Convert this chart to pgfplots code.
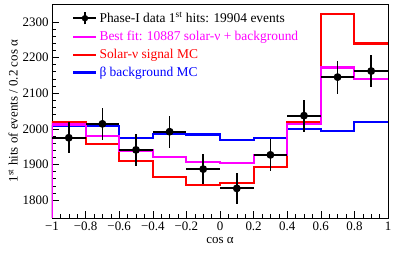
\documentclass[border=0pt]{standalone}
\usepackage{fontspec}
\setmainfont{Liberation Serif}
\usepackage{pgfplots}
\pgfplotsset{compat=1.18}
\usepackage{pgfplotstable}
\usetikzlibrary{calc}
\definecolor{mag}{RGB}{255,0,255}
\definecolor{rd}{RGB}{255,0,0}
\definecolor{bl}{RGB}{0,0,255}

\pgfplotstableread{
x y ex ey
-0.9 1975 0.1 44
-0.7 2014 0.1 45
-0.5 1941 0.1 44
-0.3 1992 0.1 45
-0.1 1887 0.1 43
0.1 1833 0.1 43
0.3 1927 0.1 44
0.5 2037 0.1 45
0.7 2145 0.1 46
0.9 2162 0.1 46
}\datatab

\pgfplotstableread{
x y
-1 1750
-1 2018
-0.8 1957
-0.6 1910
-0.4 1865
-0.2 1843
0 1848
0.2 1894
0.4 2019
0.6 2321
0.8 2239
1 2239
}\sigtab

\pgfplotstableread{
x y
-1 1750
-1 2012
-0.8 1980
-0.6 1939
-0.4 1920
-0.2 1907
0 1904
0.2 1927
0.4 2014
0.6 2172
0.8 2139
1 2139
}\fittab

\pgfplotstableread{
x y
-1 1750
-1 2009
-0.8 2008
-0.6 1974
-0.4 1986
-0.2 1984
0 1969
0.2 1974
0.4 2000
0.6 1993
0.8 2020
1 2020
}\bkgtab

\begin{document}
\begin{tikzpicture}
\begin{axis}[
  scale only axis,
  width=336bp, height=214bp,
  xmin=-1, xmax=1, ymin=1750, ymax=2350,
  axis line style={line width=0.8pt},
  xtick pos=bottom, ytick pos=left,
  tick label style={font=\fontsize{13}{15}\selectfont},
  label style={font=\fontsize{13}{15}\selectfont},
  xtick={-1,-0.8,-0.6,-0.4,-0.2,0,0.2,0.4,0.6,0.8,1},
  xticklabels={−1,−0.8,−0.6,−0.4,−0.2,0,0.2,0.4,0.6,0.8,1},
  ytick={1800,1900,2000,2100,2200,2300},
  yticklabels={1800,1900,2000,2100,2200,2300},
  minor x tick num=3, minor y tick num=4,
  tick align=inside,
  major tick length=7bp, minor tick length=4bp,
  tick style={black, line width=0.6pt},
  xlabel={cos α},
  ylabel={1\textsuperscript{st} hits of events / 0.2 cos α},
  xlabel style={at={(axis description cs:0.5,0)}, anchor=center, yshift=-23bp},
  ylabel style={at={(axis description cs:-0.116,0.5)}, anchor=center},
  clip=true,
  legend cell align=left,
  legend style={at={(axis cs:-0.88,2333)}, anchor=north west, draw=none, fill=none,
    font=\fontsize{13.5}{15}\selectfont, row sep=3bp, inner sep=0pt},
]
\addlegendimage{legend image code/.code={
  \draw[black, line width=1.8pt] (0bp,0bp)--(23bp,0bp);
  \draw[black, line width=1.8pt] (11.5bp,-6bp)--(11.5bp,6bp);
  \fill[black] (11.5bp,0bp) circle (3pt);}}
\addlegendentry{Phase-I data 1\textsuperscript{st} hits: 19904 events}
\addlegendimage{legend image code/.code={\draw[mag, line width=2.2pt] (0bp,0bp)--(23bp,0bp);}}
\addlegendentry{\textcolor{mag}{Best fit: 10887 solar-ν + background}}
\addlegendimage{legend image code/.code={\draw[rd, line width=2.2pt] (0bp,0bp)--(23bp,0bp);}}
\addlegendentry{\textcolor{rd}{Solar-ν signal MC}}
\addlegendimage{legend image code/.code={\draw[bl, line width=2.2pt] (0bp,0bp)--(23bp,0bp);}}
\addlegendentry{\textcolor{bl}{β background MC}}

\addplot[rd, line width=2.2pt, const plot mark left, forget plot] table[x=x,y=y] {\sigtab};
\addplot[bl, line width=2.2pt, const plot mark left, forget plot] table[x=x,y=y] {\bkgtab};
\addplot[mag, line width=2.2pt, const plot mark left, forget plot] table[x=x,y=y] {\fittab};
\addplot[black, line width=1.8pt, only marks, mark=*, mark size=3pt, forget plot,
  error bars/.cd, x dir=both, x explicit, y dir=both, y explicit,
  error mark=none, error bar style={line width=1.8pt, black}]
  table[x=x, y=y, x error=ex, y error=ey] {\datatab};
\end{axis}
\pgfresetboundingbox
\path[use as bounding box] ($(current axis.south west)+(-52bp,-35.3bp)$) rectangle ($(current axis.north east)+(11bp,4bp)$);
\end{tikzpicture}
\end{document}
